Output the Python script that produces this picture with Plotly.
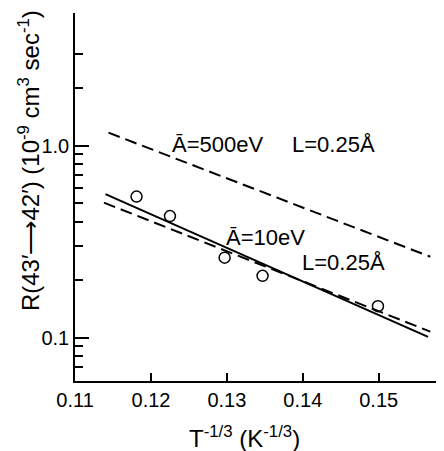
import plotly.graph_objects as go

# Data
pts_x = [0.1181, 0.1225, 0.1297, 0.1347, 0.1499]
pts_y = [0.543, 0.430, 0.261, 0.210, 0.146]

fit_solid_x = [0.1140, 0.1565]
fit_solid_y = [0.560, 0.101]

dash10_x = [0.1138, 0.1568]
dash10_y = [0.505, 0.1075]

dash500_x = [0.1144, 0.1568]
dash500_y = [1.169, 0.264]

x_ticks = [0.11, 0.12, 0.13, 0.14, 0.15]
x_labels = ["0.11", "0.12", "0.13", "0.14", "0.15"]
y_major = [0.1, 1.0]
y_major_labels = ["0.1", "1.0"]
y_minor = [0.07, 0.08, 0.09, 0.2, 0.3, 0.4, 0.5, 0.6, 0.7, 0.8, 0.9, 2, 3]

FONT = "Liberation Sans"

fig = go.Figure()
fig.add_trace(go.Scatter(x=dash500_x, y=dash500_y, mode="lines",
                         line=dict(color="black", width=2, dash="12px,6px")))
fig.add_trace(go.Scatter(x=dash10_x, y=dash10_y, mode="lines",
                         line=dict(color="black", width=2, dash="12px,6px")))
fig.add_trace(go.Scatter(x=fit_solid_x, y=fit_solid_y, mode="lines",
                         line=dict(color="black", width=2)))
fig.add_trace(go.Scatter(x=pts_x, y=pts_y, mode="markers",
                         marker=dict(symbol="circle-open", size=11,
                                     color="black", line=dict(width=1.5))))

fig.update_layout(
    width=436, height=443,
    margin=dict(l=67, r=0, t=5, b=70),
    paper_bgcolor="white", plot_bgcolor="white",
    showlegend=False,
    font=dict(family=FONT, size=20, color="black"),
    xaxis=dict(
        range=[0.10999, 0.1586],
        tickmode="array", tickvals=x_ticks, ticktext=x_labels,
        ticks="inside", ticklen=8, tickwidth=1.5, tickcolor="black",
        showline=True, linecolor="black", linewidth=1.5,
        showgrid=False, zeroline=False,
        tickfont=dict(family=FONT, size=20),
    ),
    yaxis=dict(
        type="log",
        range=[-1.2255, 0.691],
        tickmode="array", tickvals=y_major, ticktext=y_major_labels,
        ticks="inside", ticklen=14, tickwidth=1.5, tickcolor="black",
        minor=dict(tickmode="array", tickvals=y_minor, ticks="inside",
                   ticklen=8, tickwidth=1.5, tickcolor="black", showgrid=False),
        showline=True, linecolor="black", linewidth=1.5,
        showgrid=False, zeroline=False,
        tickfont=dict(family=FONT, size=20),
    ),
    annotations=[
        dict(text="R(43′⟶42′) (10<sup>-9</sup> cm<sup>3</sup> sec<sup>-1</sup>)",
             xref="paper", yref="paper", x=-0.125, y=0.60, textangle=-90,
             showarrow=False, xanchor="center", yanchor="middle",
             font=dict(family=FONT, size=24)),
        dict(text="T<sup>-1/3</sup> (K<sup>-1/3</sup>)",
             xref="paper", yref="paper", x=0.46, y=-0.152,
             showarrow=False, xanchor="center", yanchor="middle",
             font=dict(family=FONT, size=24)),
        dict(text="Ā=500eV", x=0.1287, y=0.006, xref="x", yref="y",
             showarrow=False, xanchor="center", yanchor="middle",
             font=dict(family=FONT, size=22)),
        dict(text="L=0.25Å", x=0.1440, y=0.006, xref="x", yref="y",
             showarrow=False, xanchor="center", yanchor="middle",
             font=dict(family=FONT, size=22)),
        dict(text="Ā=10eV", x=0.1351, y=-0.480, xref="x", yref="y",
             showarrow=False, xanchor="center", yanchor="middle",
             font=dict(family=FONT, size=22)),
        dict(text="L=0.25Å", x=0.1454, y=-0.610, xref="x", yref="y",
             showarrow=False, xanchor="center", yanchor="middle",
             font=dict(family=FONT, size=22)),
    ],
)

fig.write_html("out.html")
